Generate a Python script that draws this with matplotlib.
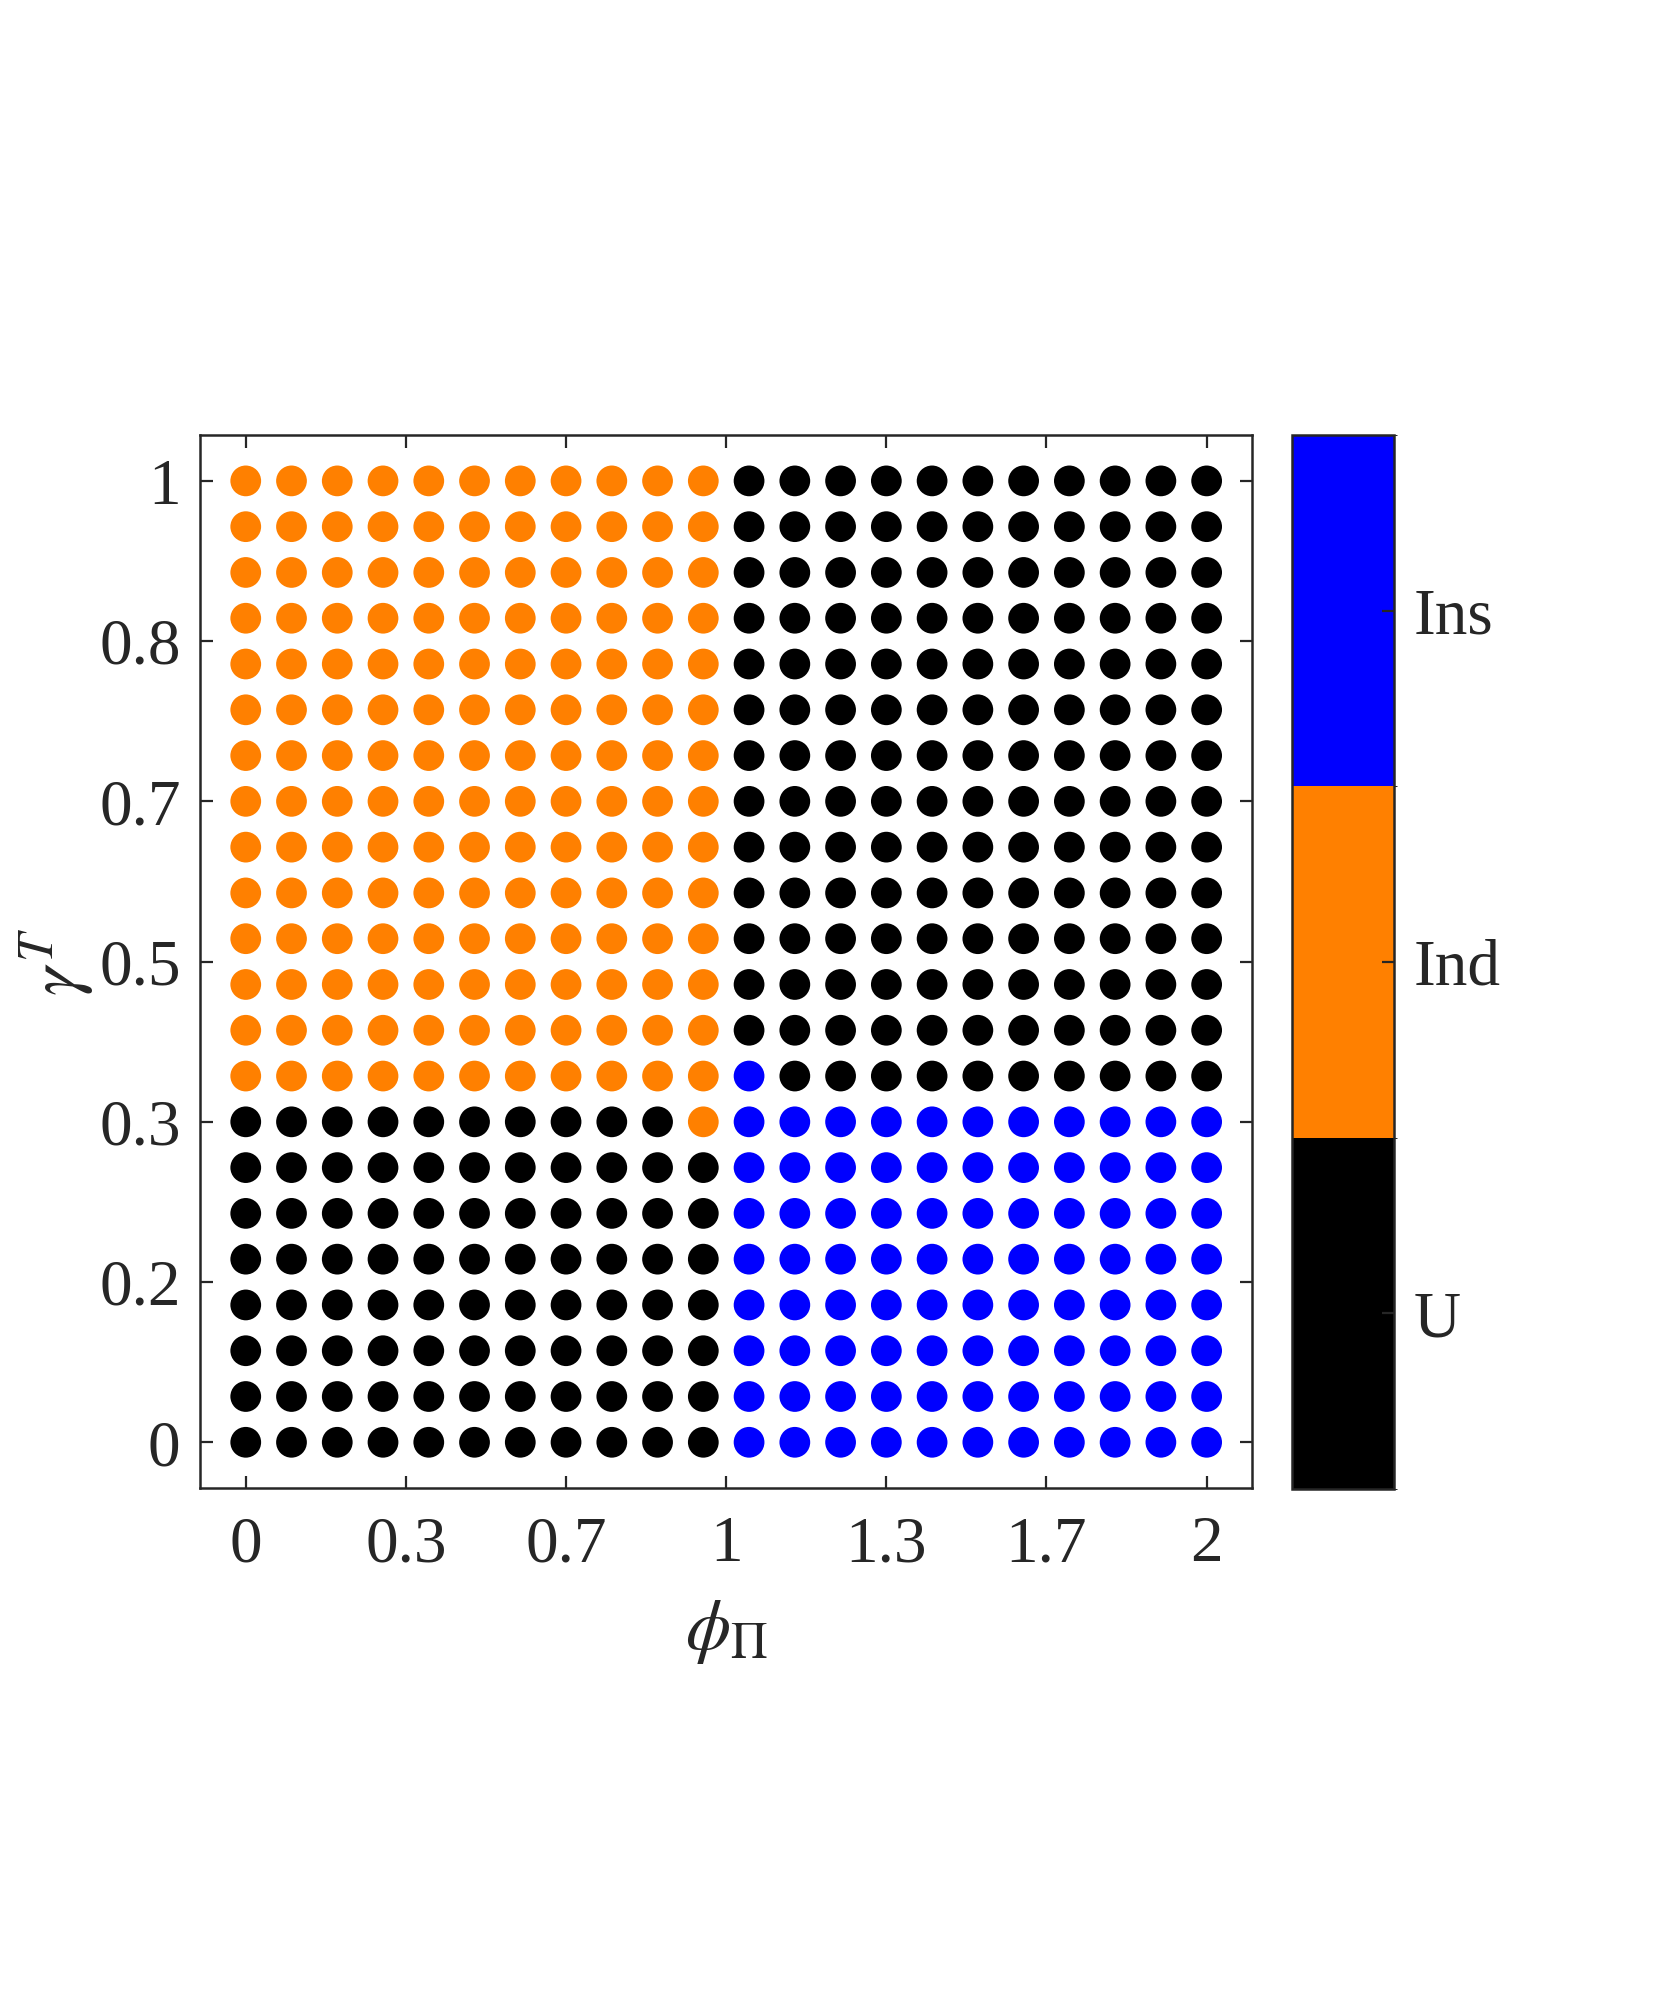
import numpy as np
import matplotlib
matplotlib.use("Agg")
import matplotlib.pyplot as plt
from matplotlib.colors import ListedColormap, BoundaryNorm

plt.rcParams['font.family'] = ['Liberation Serif', 'DejaVu Serif']
plt.rcParams['mathtext.fontset'] = 'stix'

# regime codes: 0 = U, 1 = Ind, 2 = Ins ; rows listed from top (gamma=1) to bottom (gamma=0)
regime_rows = (
    ["1111111111100000000000"] * 13
    + ["1111111111120000000000"]
    + ["0000000000122222222222"]
    + ["0000000000022222222222"] * 7
)
phi_pi = np.linspace(0, 2, 22)
gamma_T = np.linspace(1, 0, 22)
regime_names = ["U", "Ind", "Ins"]
regime_colors = ["#000000", "#FF8000", "#0000FF"]
x_ticks = [0, 1/3, 2/3, 1, 4/3, 5/3, 2]
x_ticklabels = ["0", "0.3", "0.7", "1", "1.3", "1.7", "2"]
y_ticks = [0, 1/6, 1/3, 1/2, 2/3, 5/6, 1]
y_ticklabels = ["0", "0.2", "0.3", "0.5", "0.7", "0.8", "1"]

codes = np.array([[int(c) for c in row] for row in regime_rows])
X, Y = np.meshgrid(phi_pi, gamma_T)

cmap = ListedColormap(regime_colors)
norm = BoundaryNorm([-0.5, 0.5, 1.5, 2.5], cmap.N)

fig = plt.figure(figsize=(16.61, 19.95), dpi=100)
ax = fig.add_axes([0.1204, 0.2541, 0.6336, 0.5278])
sc = ax.scatter(X.ravel(), Y.ravel(), c=codes.ravel(), cmap=cmap, norm=norm,
                s=490, linewidths=0)

step_x = 2 / 21
step_y = 1 / 21
ax.set_xlim(-step_x, 2 + step_x)
ax.set_ylim(-step_y, 1 + step_y)
ax.set_xticks(x_ticks)
ax.set_xticklabels(x_ticklabels)
ax.set_yticks(y_ticks)
ax.set_yticklabels(y_ticklabels)
ax.tick_params(direction='in', top=True, right=True, length=9, width=1.6,
               labelsize=47, colors='#262626', pad=14)
ax.tick_params(axis='x', pad=20)
for sp in ax.spines.values():
    sp.set_linewidth(1.8)
    sp.set_color('#262626')
ax.set_xlabel(r"$\phi_{\Pi}$", fontsize=52, color='#262626', labelpad=16)
ax.set_ylabel(r"$\gamma^{T}$", fontsize=52, color='#262626', labelpad=2)

cax = fig.add_axes([0.7778, 0.2536, 0.0614, 0.5283])
cb = fig.colorbar(sc, cax=cax, ticks=[0, 1, 2])
cb.ax.set_yticklabels(regime_names)
cb.ax.tick_params(direction='in', length=9, width=1.6, labelsize=47,
                  colors='#262626', pad=14)
cb.outline.set_linewidth(1.8)
cb.outline.set_edgecolor('#262626')

fig.savefig("out.png", dpi=100, facecolor='white')
